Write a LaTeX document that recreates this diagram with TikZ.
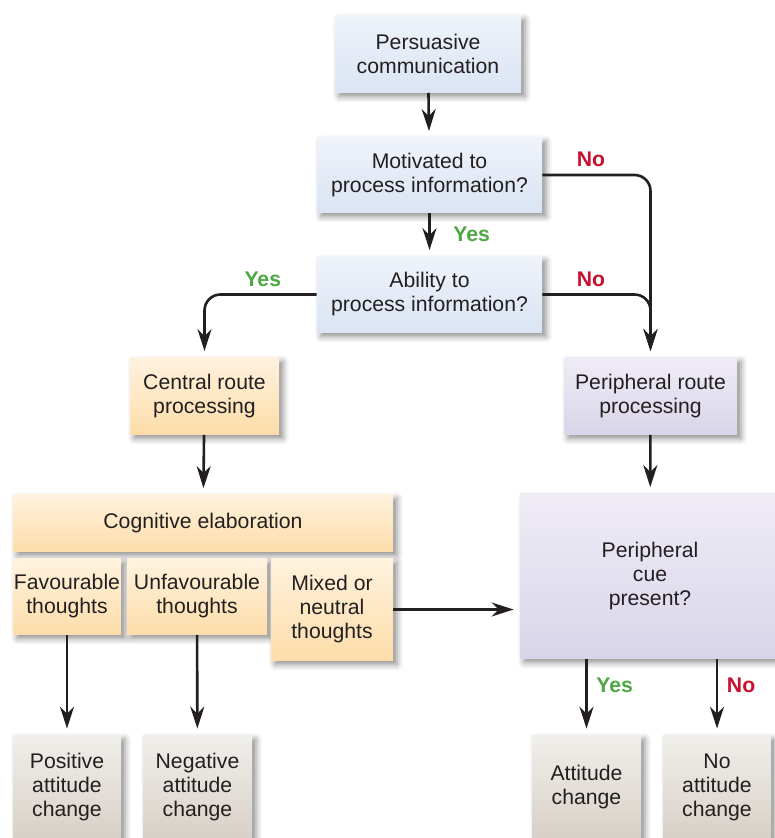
\documentclass[tikz,border=0pt]{standalone}
\usepackage{fontspec}
\setmainfont{Liberation Sans}
\usetikzlibrary{arrows.meta,shadows.blur}

\definecolor{ink}{HTML}{231F20}
\definecolor{yesgreen}{HTML}{4DA842}
\definecolor{nored}{HTML}{C8102E}
\definecolor{bluetop}{HTML}{EFF3FA}
\definecolor{bluebot}{HTML}{DAE4F3}
\definecolor{orangetop}{HTML}{FFF2DE}
\definecolor{orangebot}{HTML}{FDDDAA}
\definecolor{purpletop}{HTML}{EFECF6}
\definecolor{purplebot}{HTML}{D9D5E9}
\definecolor{greytop}{HTML}{F1EFEB}
\definecolor{greybot}{HTML}{D7D0C7}

\tikzset{
  box/.style={inner sep=0pt, align=center, text=ink,
    font=\fontsize{10.6}{12}\selectfont,
    blur shadow={shadow xshift=2pt, shadow yshift=-2pt, shadow blur radius=3pt, shadow opacity=45}},
  bluebox/.style={box, top color=bluetop, bottom color=bluebot},
  orangebox/.style={box, top color=orangetop, bottom color=orangebot},
  purplebox/.style={box, top color=purpletop, bottom color=purplebot},
  greybox/.style={box, top color=greytop, bottom color=greybot},
  link/.style={line width=1.3pt, draw=ink, -{Stealth[length=11pt,width=7pt,inset=3.5pt]}, shorten >=3pt},
  yes/.style={text=yesgreen, font=\bfseries\fontsize{10.6}{12}\selectfont},
  no/.style={text=nored, font=\bfseries\fontsize{10.6}{12}\selectfont}
}

\begin{document}
\begin{tikzpicture}[x=0.5pt, y=-0.5pt]
  \useasboundingbox (0,0) rectangle (774,838);

  \node[bluebox, minimum width=93pt, minimum height=38.5pt] (pers) at (428,54) {Persuasive\\communication};
  \node[bluebox, minimum width=112.5pt, minimum height=37.5pt] (motiv) at (429.5,175) {Motivated to\\process information?};
  \node[bluebox, minimum width=112.5pt, minimum height=38pt] (abil) at (429.5,294.5) {Ability to\\process information?};

  \node[orangebox, minimum width=74.5pt, minimum height=38.5pt] (central) at (204.5,396) {Central route\\processing};
  \node[purplebox, minimum width=86.5pt, minimum height=38.5pt] (periph) at (650.5,396) {Peripheral route\\processing};

  \node[orangebox, minimum width=190pt, minimum height=28.5pt] (cog) at (203,523) {Cognitive elaboration};
  \node[orangebox, minimum width=54pt, minimum height=38pt] (fav) at (67,596.5) {Favourable\\thoughts};
  \node[orangebox, minimum width=70pt, minimum height=38pt] (unfav) at (197,596.5) {Unfavourable\\thoughts};
  \node[orangebox, minimum width=61pt, minimum height=51pt] (mixed) at (332,609.5) {Mixed or\\neutral\\thoughts};

  \node[purplebox, minimum width=130pt, minimum height=82.5pt] (cue) at (650,576) {Peripheral\\cue\\present?};

  \node[greybox, minimum width=54pt, minimum height=52pt] (pos) at (67,787) {Positive\\attitude\\change};
  \node[greybox, minimum width=54.5pt, minimum height=52pt] (neg) at (197.5,787) {Negative\\attitude\\change};
  \node[greybox, minimum width=54.5pt, minimum height=52pt] (att) at (586.5,787) {Attitude\\change};
  \node[greybox, minimum width=54pt, minimum height=52pt] (noatt) at (717,787) {No\\attitude\\change};

  \draw[link] (pers) -- (motiv);
  \draw[link] (motiv) -- node[yes, right=8pt] {Yes} (abil);
  \draw[link, rounded corners=8pt] (motiv.east) -| node[no, pos=0.225, above=0pt] {No} (periph.north);
  \draw[link, rounded corners=8pt] (abil.east) -| node[no, pos=0.225, above=0pt] {No} (periph.north);
  \draw[link, rounded corners=8pt] (abil.west) -| node[yes, pos=0.24, above=0pt] {Yes} (central.north);

  \draw[link] (central) -- (cog);
  \draw[link] (periph) -- (cue);
  \draw[link] (mixed.east) -- (mixed.east -| cue.west);

  \draw[link] (fav) -- (pos);
  \draw[link] (unfav) -- (neg);
  \draw[link] (att |- cue.south) -- node[yes, pos=0.35, right=1pt] {Yes} (att);
  \draw[link] (noatt |- cue.south) -- node[no, pos=0.35, right=1pt] {No} (noatt);
\end{tikzpicture}
\end{document}
